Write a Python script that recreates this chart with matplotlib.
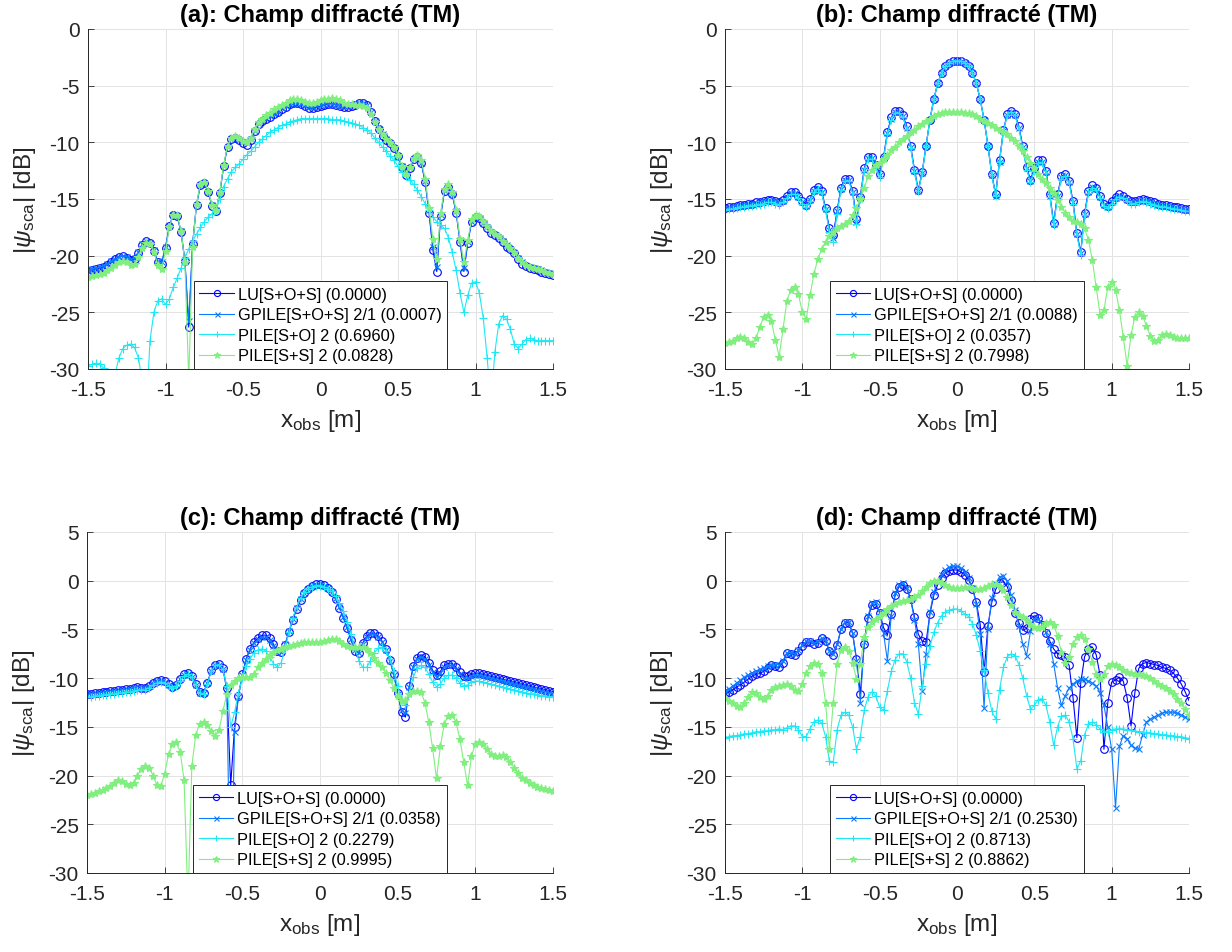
import numpy as np
import matplotlib
matplotlib.use("Agg")
import matplotlib.pyplot as plt

plt.rcParams['font.family'] = ['Liberation Sans', 'DejaVu Sans']
plt.rcParams['mathtext.fontset'] = 'custom'
plt.rcParams['mathtext.rm'] = 'Liberation Sans'
plt.rcParams['mathtext.it'] = 'Liberation Sans:italic'
plt.rcParams['mathtext.bf'] = 'Liberation Sans:bold'

# observation points x_obs [m]
x_obs = np.linspace(-1.5, 1.5, 121)

x_ticks = [-1.5, -1, -0.5, 0, 0.5, 1, 1.5]
x_ticklabels = ['-1.5', '-1', '-0.5', '0', '0.5', '1', '1.5']

method_names = ['LU[S+O+S]', 'GPILE[S+O+S] 2/1', 'PILE[S+O] 2', 'PILE[S+S] 2']
errors_a = ['0.0000', '0.0007', '0.6960', '0.0828']
errors_b = ['0.0000', '0.0088', '0.0357', '0.7998']
errors_c = ['0.0000', '0.0358', '0.2279', '0.9995']
errors_d = ['0.0000', '0.2530', '0.8713', '0.8862']

# ---------------- (a) ----------------
lu_a = [
    -21.4, -21.3, -21.2, -21.1, -21.0, -20.8, -20.6, -20.3, -20.1, -20.0,
    -20.2, -20.4, -20.3, -19.8, -19.1, -18.7, -18.9, -19.6, -20.6, -20.7,
    -19.3, -17.4, -16.4, -16.5, -17.9, -20.5, -26.3, -19.0, -15.5, -13.8,
    -13.6, -14.4, -15.6, -16.1, -14.5, -12.1, -10.4, -9.7, -9.6, -9.8,
    -10.1, -10.2, -9.8, -9.0, -8.4, -8.1, -7.9, -7.8, -7.5, -7.3,
    -7.1, -6.9, -6.6, -6.5, -6.5, -6.6, -6.8, -7.0, -7.0, -6.9,
    -6.8, -6.7, -6.6, -6.6, -6.7, -6.8, -6.9, -6.9, -6.8, -6.7,
    -6.5, -6.5, -6.7, -7.3, -8.1, -8.8, -9.4, -9.8, -10.1, -10.5,
    -11.2, -12.2, -12.9, -12.3, -11.5, -11.3, -11.8, -13.5, -16.2, -19.5,
    -21.4, -16.5, -14.3, -13.9, -14.6, -16.2, -18.8, -21.4, -18.9, -17.0,
    -16.6, -16.7, -17.1, -17.6, -18.0, -18.2, -18.4, -18.8, -19.2, -19.4,
    -19.8, -20.3, -20.7, -20.9, -21.1, -21.2, -21.3, -21.4, -21.5, -21.6, -21.7]
gpile_a = [
    -21.3, -21.2, -21.1, -21.0, -20.9, -20.7, -20.5, -20.3, -20.1, -20.0,
    -20.1, -20.3, -20.2, -19.7, -19.0, -18.7, -18.9, -19.5, -20.5, -20.6,
    -19.2, -17.4, -16.4, -16.5, -17.8, -20.4, -25.8, -18.9, -15.5, -13.8,
    -13.6, -14.4, -15.5, -16.0, -14.5, -12.1, -10.4, -9.7, -9.6, -9.8,
    -10.0, -10.1, -9.7, -9.0, -8.4, -8.1, -7.9, -7.7, -7.5, -7.3,
    -7.0, -6.8, -6.6, -6.5, -6.5, -6.6, -6.8, -6.9, -6.9, -6.8,
    -6.7, -6.6, -6.6, -6.6, -6.7, -6.8, -6.8, -6.8, -6.7, -6.6,
    -6.5, -6.5, -6.7, -7.3, -8.1, -8.8, -9.3, -9.7, -10.1, -10.5,
    -11.2, -12.1, -12.8, -12.3, -11.5, -11.3, -11.8, -13.4, -16.0, -19.2,
    -21.0, -16.4, -14.3, -13.9, -14.6, -16.1, -18.6, -21.1, -18.8, -17.0,
    -16.6, -16.7, -17.1, -17.5, -17.9, -18.2, -18.4, -18.7, -19.1, -19.4,
    -19.8, -20.2, -20.6, -20.9, -21.0, -21.1, -21.2, -21.3, -21.4, -21.5, -21.6]
pile_so_a = [
    -29.7, -29.6, -29.5, -29.6, -29.9, -30.5, -32.0, -30.4, -29.0, -28.2,
    -27.9, -27.8, -28.1, -29.0, -31.0, -34.0, -27.5, -25.0, -24.0, -23.8,
    -24.3, -23.8, -22.8, -22.0, -21.1, -20.2, -19.4, -18.7, -18.1, -17.5,
    -17.0, -16.6, -16.3, -16.0, -15.0, -13.9, -13.2, -12.6, -12.2, -11.9,
    -11.5, -11.1, -10.8, -10.4, -10.0, -9.7, -9.4, -9.1, -8.9, -8.7,
    -8.5, -8.4, -8.2, -8.1, -8.0, -7.9, -7.9, -7.9, -7.9, -7.9,
    -7.9, -7.9, -7.9, -8.0, -8.0, -8.0, -8.1, -8.2, -8.3, -8.4,
    -8.5, -8.7, -8.9, -9.2, -9.6, -10.0, -10.4, -10.8, -11.2, -11.6,
    -12.1, -12.6, -13.0, -13.3, -13.7, -14.2, -14.8, -15.4, -16.0, -16.6,
    -17.0, -17.3, -17.6, -18.4, -19.7, -21.3, -23.3, -25.0, -23.5, -22.4,
    -22.3, -23.3, -25.5, -29.0, -33.0, -28.5, -26.0, -25.3, -25.6, -26.5,
    -27.8, -28.2, -27.8, -27.4, -27.3, -27.4, -27.5, -27.5, -27.5, -27.5, -27.5]
pile_ss_a = [
    -21.9, -21.8, -21.7, -21.6, -21.5, -21.3, -21.1, -20.8, -20.6, -20.5,
    -20.6, -20.8, -20.7, -20.1, -19.3, -18.9, -19.0, -19.7, -20.8, -21.2,
    -19.6, -17.5, -16.4, -16.4, -17.8, -20.6, -31.0, -19.2, -15.4, -13.7,
    -13.5, -14.3, -15.5, -16.0, -14.4, -12.0, -10.3, -9.6, -9.4, -9.6,
    -9.9, -10.0, -9.6, -8.8, -8.2, -7.9, -7.6, -7.4, -7.1, -6.9,
    -6.7, -6.5, -6.3, -6.2, -6.2, -6.3, -6.4, -6.5, -6.5, -6.4,
    -6.3, -6.2, -6.2, -6.1, -6.2, -6.3, -6.5, -6.6, -6.6, -6.7,
    -6.7, -6.8, -7.0, -7.5, -8.2, -8.8, -9.3, -9.7, -10.0, -10.4,
    -11.1, -12.1, -12.8, -12.2, -11.4, -11.1, -11.6, -13.2, -15.8, -18.5,
    -20.3, -16.2, -14.1, -13.7, -14.4, -16.0, -18.5, -20.6, -18.6, -16.8,
    -16.4, -16.5, -16.9, -17.4, -17.8, -18.1, -18.3, -18.7, -19.1, -19.3,
    -19.7, -20.2, -20.6, -20.8, -21.0, -21.1, -21.2, -21.3, -21.4, -21.5, -21.6]

# ---------------- (b) ----------------
lu_b = [
    -15.8, -15.7, -15.7, -15.6, -15.5, -15.5, -15.4, -15.4, -15.3, -15.3,
    -15.2, -15.1, -15.1, -15.2, -15.3, -15.1, -14.7, -14.4, -14.4, -14.7,
    -15.2, -15.5, -15.0, -14.2, -13.9, -14.3, -15.8, -17.6, -18.2, -16.0,
    -14.0, -13.2, -13.2, -14.3, -16.8, -14.8, -12.3, -11.3, -11.3, -12.0,
    -12.8, -11.3, -9.1, -7.8, -7.2, -7.2, -7.6, -8.6, -10.3, -12.4,
    -14.2, -12.6, -10.3, -8.0, -6.2, -4.8, -3.9, -3.3, -3.0, -2.8,
    -2.8, -2.8, -3.0, -3.3, -3.9, -4.8, -6.2, -8.0, -10.3, -12.8,
    -14.6, -11.6, -8.9, -7.5, -7.2, -7.5, -8.6, -10.3, -12.2, -13.3,
    -12.3, -11.6, -11.6, -12.5, -14.6, -17.1, -14.6, -13.0, -12.8, -13.4,
    -15.2, -18.0, -19.7, -16.2, -14.3, -13.8, -14.0, -14.7, -15.4, -15.6,
    -15.2, -14.8, -14.6, -14.7, -15.0, -15.2, -15.2, -15.1, -15.0, -15.1,
    -15.2, -15.3, -15.4, -15.5, -15.5, -15.6, -15.7, -15.7, -15.8, -15.9, -15.9]
gpile_b = [
    -15.8, -15.8, -15.7, -15.6, -15.6, -15.5, -15.5, -15.4, -15.4, -15.3,
    -15.2, -15.2, -15.2, -15.2, -15.3, -15.2, -14.8, -14.5, -14.5, -14.8,
    -15.3, -15.6, -15.1, -14.3, -14.0, -14.4, -15.9, -17.7, -18.4, -16.1,
    -14.1, -13.3, -13.3, -14.4, -17.0, -14.9, -12.4, -11.4, -11.4, -12.1,
    -12.9, -11.4, -9.2, -7.9, -7.3, -7.3, -7.7, -8.7, -10.4, -12.5,
    -14.3, -12.7, -10.3, -8.0, -6.2, -4.8, -3.9, -3.3, -3.0, -2.9,
    -2.9, -2.9, -3.0, -3.3, -3.9, -4.8, -6.2, -8.0, -10.3, -12.9,
    -14.7, -11.7, -9.0, -7.6, -7.3, -7.6, -8.7, -10.4, -12.3, -13.4,
    -12.4, -11.7, -11.7, -12.6, -14.7, -17.2, -14.7, -13.1, -12.9, -13.5,
    -15.3, -18.1, -19.8, -16.3, -14.4, -13.9, -14.1, -14.8, -15.5, -15.7,
    -15.3, -14.9, -14.7, -14.8, -15.1, -15.3, -15.3, -15.2, -15.1, -15.2,
    -15.3, -15.4, -15.5, -15.6, -15.6, -15.7, -15.8, -15.8, -15.9, -16.0, -16.0]
pile_so_b = [
    -16.0, -15.9, -15.9, -15.8, -15.7, -15.7, -15.6, -15.6, -15.5, -15.5,
    -15.4, -15.3, -15.3, -15.4, -15.5, -15.3, -14.9, -14.6, -14.6, -14.9,
    -15.4, -15.7, -15.2, -14.4, -14.1, -14.5, -16.0, -17.9, -18.8, -16.3,
    -14.2, -13.4, -13.4, -14.5, -17.2, -15.0, -12.5, -11.5, -11.5, -12.2,
    -13.1, -11.5, -9.3, -8.0, -7.4, -7.4, -7.8, -8.8, -10.5, -12.6,
    -14.3, -12.7, -10.3, -8.0, -6.2, -4.8, -3.9, -3.3, -3.0, -2.8,
    -2.8, -2.8, -3.0, -3.3, -3.9, -4.8, -6.2, -8.0, -10.3, -12.9,
    -14.7, -11.7, -9.0, -7.6, -7.3, -7.6, -8.8, -10.5, -12.4, -13.5,
    -12.5, -11.8, -11.8, -12.7, -14.8, -17.3, -14.8, -13.2, -13.0, -13.6,
    -15.4, -18.2, -19.9, -16.4, -14.5, -14.0, -14.2, -14.9, -15.6, -15.8,
    -15.4, -15.0, -14.8, -14.9, -15.2, -15.4, -15.4, -15.3, -15.2, -15.3,
    -15.4, -15.5, -15.6, -15.7, -15.7, -15.8, -15.9, -15.9, -16.0, -16.1, -16.1]
pile_ss_b = [
    -27.7, -27.6, -27.5, -27.3, -27.2, -27.3, -27.6, -27.8, -27.3, -26.3,
    -25.4, -25.2, -25.8, -27.4, -28.9, -26.5, -24.0, -23.0, -22.8, -23.4,
    -25.0, -25.6, -23.5, -21.6, -20.3, -19.4, -18.8, -18.3, -17.9, -17.6,
    -17.4, -17.2, -16.9, -16.4, -15.8, -15.0, -14.0, -13.0, -12.4, -12.0,
    -11.8, -11.5, -11.1, -10.7, -10.4, -10.0, -9.7, -9.4, -9.1, -8.9,
    -8.6, -8.4, -8.1, -7.9, -7.7, -7.5, -7.4, -7.3, -7.3, -7.3,
    -7.3, -7.3, -7.4, -7.4, -7.5, -7.7, -7.9, -8.1, -8.3, -8.5,
    -8.7, -8.9, -9.1, -9.3, -9.6, -9.9, -10.3, -10.8, -11.3, -11.8,
    -12.3, -12.8, -13.2, -13.6, -14.0, -14.5, -15.1, -15.7, -16.2, -16.6,
    -16.9, -17.0, -17.2, -17.6, -18.6, -20.4, -22.8, -25.2, -24.8, -22.8,
    -22.3, -23.0, -24.8, -27.2, -29.7, -27.0, -25.4, -25.0, -25.3, -26.2,
    -27.1, -27.5, -27.4, -27.0, -26.9, -27.0, -27.2, -27.3, -27.3, -27.3, -27.3]

# ---------------- (c) ----------------
lu_c = [
    -11.6, -11.6, -11.5, -11.5, -11.4, -11.4, -11.3, -11.3, -11.2, -11.2,
    -11.1, -11.1, -11.0, -10.9, -11.0, -11.0, -10.8, -10.5, -10.3, -10.2,
    -10.3, -10.6, -10.9, -10.7, -10.1, -9.6, -9.5, -9.8, -10.6, -11.4,
    -11.5, -10.5, -9.2, -8.6, -8.5, -9.0, -11.0, -21.0, -15.0, -11.8,
    -9.6, -8.0, -7.0, -6.3, -5.9, -5.6, -5.6, -5.9, -6.5, -7.2,
    -7.3, -6.6, -5.3, -4.0, -2.9, -2.0, -1.3, -0.8, -0.5, -0.3,
    -0.3, -0.4, -0.7, -1.2, -1.9, -2.8, -3.8, -4.9, -6.1, -7.2,
    -7.4, -6.4, -5.7, -5.4, -5.4, -5.7, -6.2, -7.0, -8.1, -9.6,
    -11.5, -13.5, -14.0, -10.8, -8.8, -7.9, -7.6, -7.8, -8.4, -9.2,
    -9.7, -9.3, -8.7, -8.5, -8.5, -8.9, -9.4, -9.8, -9.8, -9.6,
    -9.5, -9.5, -9.6, -9.7, -9.8, -9.9, -10.0, -10.1, -10.2, -10.3,
    -10.4, -10.5, -10.6, -10.7, -10.8, -10.9, -11.0, -11.1, -11.2, -11.3, -11.4]
gpile_c = [
    -11.7, -11.6, -11.6, -11.5, -11.5, -11.4, -11.4, -11.3, -11.3, -11.2,
    -11.2, -11.1, -11.0, -11.0, -11.0, -11.0, -10.8, -10.5, -10.3, -10.3,
    -10.4, -10.7, -10.9, -10.7, -10.1, -9.7, -9.6, -9.9, -10.7, -11.5,
    -11.5, -10.5, -9.3, -8.7, -8.6, -9.1, -11.2, -35.0, -15.5, -11.9,
    -9.7, -8.1, -7.1, -6.4, -6.0, -5.8, -5.8, -6.1, -6.7, -7.3,
    -7.3, -6.5, -5.2, -3.9, -2.8, -1.9, -1.3, -0.8, -0.5, -0.4,
    -0.4, -0.5, -0.7, -1.2, -1.8, -2.7, -3.7, -4.8, -6.0, -7.1,
    -7.4, -6.5, -5.8, -5.5, -5.5, -5.8, -6.3, -7.1, -8.2, -9.7,
    -11.6, -13.3, -13.6, -10.9, -8.9, -8.0, -7.8, -8.0, -8.6, -9.4,
    -9.9, -9.5, -8.9, -8.7, -8.7, -9.1, -9.6, -10.0, -10.0, -9.8,
    -9.7, -9.7, -9.8, -9.9, -10.0, -10.1, -10.2, -10.3, -10.4, -10.5,
    -10.6, -10.7, -10.8, -10.9, -11.0, -11.1, -11.2, -11.3, -11.4, -11.5, -11.6]
pile_so_c = [
    -11.9, -11.9, -11.8, -11.8, -11.7, -11.7, -11.6, -11.6, -11.5, -11.5,
    -11.4, -11.4, -11.3, -11.2, -11.2, -11.2, -11.0, -10.7, -10.5, -10.4,
    -10.5, -10.8, -11.0, -10.8, -10.3, -9.8, -9.6, -9.9, -10.7, -11.5,
    -11.6, -10.6, -9.3, -8.7, -8.6, -9.1, -10.8, -15.0, -13.5, -11.5,
    -10.0, -8.8, -8.0, -7.4, -7.1, -7.0, -7.2, -7.8, -8.5, -8.9,
    -8.4, -7.0, -5.3, -3.8, -2.7, -1.8, -1.2, -0.8, -0.6, -0.5,
    -0.5, -0.6, -0.8, -1.1, -1.6, -2.3, -3.1, -4.2, -5.5, -6.9,
    -8.2, -8.9, -8.9, -8.2, -7.4, -6.9, -6.8, -7.2, -8.0, -9.3,
    -10.8, -12.2, -12.8, -11.5, -9.9, -9.0, -8.7, -8.9, -9.6, -10.4,
    -10.9, -10.6, -10.0, -9.7, -9.7, -10.0, -10.5, -10.8, -10.7, -10.4,
    -10.3, -10.3, -10.4, -10.5, -10.6, -10.7, -10.8, -10.9, -11.0, -11.1,
    -11.2, -11.3, -11.4, -11.5, -11.6, -11.6, -11.7, -11.8, -11.8, -11.9, -11.9]
pile_ss_c = [
    -22.0, -21.9, -21.8, -21.6, -21.5, -21.3, -21.1, -20.8, -20.5, -20.6,
    -20.9, -21.0, -20.8, -20.0, -19.3, -19.0, -19.2, -20.0, -21.0, -21.1,
    -19.8, -17.8, -16.8, -16.6, -17.6, -20.5, -33.0, -19.0, -15.8, -14.7,
    -14.5, -14.8, -15.4, -15.9, -15.3, -13.4, -11.6, -10.7, -10.3, -10.0,
    -9.9, -9.9, -9.9, -9.6, -8.9, -8.4, -8.0, -7.6, -7.3, -7.1,
    -7.0, -6.8, -6.7, -6.6, -6.5, -6.4, -6.3, -6.3, -6.3, -6.3,
    -6.3, -6.2, -6.1, -6.0, -6.0, -6.2, -6.5, -6.7, -6.8, -6.8,
    -6.8, -6.8, -7.0, -7.4, -7.9, -8.4, -8.9, -9.5, -10.2, -11.0,
    -11.8, -12.3, -12.2, -11.6, -11.3, -11.3, -11.4, -12.5, -14.5, -17.2,
    -20.3, -17.0, -14.7, -13.9, -13.8, -14.5, -16.2, -18.6, -21.0, -18.0,
    -16.8, -16.6, -16.8, -17.3, -17.8, -18.0, -18.0, -17.9, -18.1, -18.6,
    -19.2, -19.7, -20.2, -20.5, -20.8, -21.0, -21.2, -21.3, -21.4, -21.5, -21.6]

# ---------------- (d) ----------------
lu_d = [
    -11.6, -11.4, -11.2, -10.9, -10.7, -10.4, -10.1, -9.8, -9.6, -9.5,
    -9.3, -9.0, -8.7, -8.8, -8.9, -8.4, -7.4, -7.5, -7.6, -7.2,
    -6.7, -6.3, -6.3, -6.5, -6.4, -5.9, -6.2, -7.2, -7.6, -6.6,
    -5.0, -4.3, -4.3, -5.4, -8.0, -11.6, -6.5, -3.8, -2.5, -2.4,
    -3.3, -4.8, -5.6, -3.4, -1.5, -0.6, -0.4, -0.8, -1.9, -3.7,
    -5.5, -6.2, -6.3, -3.4, -1.5, -0.4, 0.3, 0.8, 1.0, 1.1,
    1.1, 0.9, 0.6, 0.1, -0.8, -2.2, -4.5, -9.4, -4.6, -2.2,
    -0.9, -0.2, -0.1, -0.6, -2.0, -3.3, -4.3, -5.1, -4.9, -3.9,
    -3.6, -3.8, -4.5, -5.4, -6.2, -7.0, -7.5, -7.6, -7.8, -8.7,
    -12.0, -16.1, -10.5, -7.8, -7.0, -6.8, -7.6, -9.7, -17.3, -12.5,
    -10.4, -10.2, -9.9, -10.3, -12.0, -14.9, -11.5, -9.0, -8.5, -8.4,
    -8.5, -8.6, -8.7, -8.9, -9.0, -9.2, -9.5, -10.0, -10.6, -11.4, -12.3]
gpile_d = [
    -11.3, -11.1, -10.8, -10.5, -10.2, -9.9, -9.7, -9.5, -9.3, -9.1,
    -9.0, -8.8, -8.7, -8.6, -8.6, -8.2, -7.4, -7.4, -7.5, -7.1,
    -6.6, -6.2, -6.2, -6.4, -6.3, -5.9, -6.2, -7.2, -7.5, -6.5,
    -5.0, -4.2, -4.2, -5.4, -8.2, -12.5, -6.3, -3.6, -2.3, -2.2,
    -3.2, -5.4, -8.2, -3.6, -1.3, -0.4, -0.2, -0.7, -1.9, -4.0,
    -6.5, -11.3, -7.5, -3.2, -1.2, -0.1, 0.6, 1.1, 1.4, 1.5,
    1.5, 1.3, 0.9, 0.3, -0.7, -2.4, -5.5, -13.1, -5.0, -1.8,
    -0.3, 0.4, 0.5, 0.0, -1.5, -3.0, -4.6, -6.5, -7.7, -5.2,
    -3.9, -3.9, -4.4, -5.3, -6.5, -8.5, -11.0, -12.8, -11.8, -11.0,
    -10.6, -10.3, -10.1, -10.1, -10.3, -10.5, -10.8, -11.5, -12.8, -15.0,
    -17.3, -23.3, -17.0, -15.9, -16.2, -16.9, -17.2, -17.3, -15.8, -14.5,
    -14.2, -14.0, -13.8, -13.6, -13.5, -13.5, -13.5, -13.6, -13.8, -14.0, -14.2]
pile_so_d = [
    -16.1, -16.0, -15.9, -15.9, -15.8, -15.7, -15.7, -15.6, -15.5, -15.5,
    -15.4, -15.4, -15.3, -15.3, -15.2, -15.3, -15.1, -14.9, -14.9, -15.3,
    -16.0, -16.0, -15.2, -14.5, -14.3, -14.6, -16.0, -18.5, -18.6, -15.3,
    -13.8, -13.5, -13.8, -15.0, -17.3, -16.0, -13.3, -11.9, -11.4, -11.8,
    -13.0, -13.3, -11.3, -9.3, -8.1, -7.5, -7.5, -8.3, -10.0, -12.5,
    -13.7, -10.8, -8.5, -6.7, -5.3, -4.3, -3.6, -3.2, -3.0, -2.9,
    -2.9, -3.1, -3.4, -3.7, -4.4, -5.6, -7.2, -9.2, -11.5, -13.4,
    -14.2, -11.2, -8.9, -7.8, -7.5, -7.7, -8.6, -10.0, -11.8, -13.2,
    -12.8, -12.2, -12.1, -12.8, -14.5, -16.9, -15.0, -13.9, -13.8, -14.5,
    -16.2, -19.3, -18.5, -15.8, -14.7, -14.5, -14.8, -15.2, -15.5, -15.5,
    -15.3, -15.2, -15.2, -15.2, -15.3, -15.3, -15.4, -15.5, -15.5, -15.6,
    -15.6, -15.7, -15.7, -15.8, -15.8, -15.9, -15.9, -16.0, -16.0, -16.1, -16.2]
pile_ss_d = [
    -12.0, -12.3, -12.6, -12.9, -13.0, -12.6, -11.9, -11.4, -11.5, -11.9,
    -12.1, -11.8, -11.2, -10.9, -10.8, -10.7, -10.6, -10.8, -11.2, -11.3,
    -10.6, -9.5, -8.8, -8.4, -8.5, -9.5, -12.5, -17.3, -12.5, -8.5,
    -7.1, -6.8, -7.2, -8.4, -10.1, -8.5, -5.8, -4.8, -4.2, -3.9,
    -3.6, -3.3, -2.9, -2.6, -2.4, -2.2, -2.1, -2.0, -1.9, -1.7,
    -1.5, -1.1, -0.6, -0.2, 0.0, 0.0, -0.2, -0.4, -0.6, -0.7,
    -0.7, -0.7, -0.6, -0.6, -0.7, -0.8, -0.8, -0.7, -0.5, -0.3,
    -0.3, -0.5, -1.0, -1.7, -2.5, -3.2, -3.5, -3.7, -4.0, -4.4,
    -4.8, -4.9, -4.7, -4.3, -4.2, -4.5, -5.7, -7.3, -8.4, -7.8,
    -6.5, -5.8, -5.6, -6.0, -7.0, -8.3, -9.6, -10.1, -9.6, -8.8,
    -8.5, -8.6, -8.9, -9.2, -9.4, -9.5, -9.6, -9.6, -9.7, -9.8,
    -10.0, -10.3, -10.6, -10.8, -11.0, -11.3, -11.6, -12.1, -12.6, -13.2, -13.8]

panels = [
    ('(a)', [lu_a, gpile_a, pile_so_a, pile_ss_a], errors_a, (-30, 0)),
    ('(b)', [lu_b, gpile_b, pile_so_b, pile_ss_b], errors_b, (-30, 0)),
    ('(c)', [lu_c, gpile_c, pile_so_c, pile_ss_c], errors_c, (-30, 5)),
    ('(d)', [lu_d, gpile_d, pile_so_d, pile_ss_d], errors_d, (-30, 5)),
]

colors = ['#0000ff', '#0a7cff', '#1ee8f5', '#80ef80']
markers = ['o', 'x', '+', '*']
msizes = [5.5, 4.5, 6.0, 6.0]

# axes boxes in pixels (left, top, right, bottom) for 1232x953
boxes = [(88, 30, 553, 370), (725, 30, 1189, 370),
         (87, 533, 553, 874), (725, 533, 1189, 874)]
W, H = 1232, 953
axis_col = '#262626'

fig = plt.figure(figsize=(12.32, 9.53), dpi=100)

for (tag, series, errs, ylim), (l, t, r, b) in zip(panels, boxes):
    ax = fig.add_axes([l / W, (H - b) / H, (r - l) / W, (b - t) / H])
    for y, name, err, c, m, ms in zip(series, method_names, errs, colors, markers, msizes):
        ax.plot(x_obs, y, color=c, marker=m, markersize=ms, linewidth=0.8,
                markerfacecolor='none' if m == 'o' else c, markeredgewidth=0.8,
                label=f'{name} ({err})')
    ax.set_xlim(-1.5, 1.5)
    ax.set_ylim(*ylim)
    ax.set_xticks(x_ticks)
    ax.set_xticklabels(x_ticklabels)
    yt = list(range(ylim[0], ylim[1] + 1, 5))
    ax.set_yticks(yt)
    ax.set_yticklabels([str(v) for v in yt])
    ax.grid(True, color='#e3e3e3', linewidth=0.7)
    ax.set_axisbelow(True)
    for s in ['top', 'right']:
        ax.spines[s].set_visible(False)
    for s in ['left', 'bottom']:
        ax.spines[s].set_color(axis_col)
        ax.spines[s].set_linewidth(0.7)
    ax.tick_params(direction='in', length=4, width=0.6, colors=axis_col,
                   labelsize=15)
    ax.tick_params(axis='x', pad=8)
    ax.tick_params(axis='y', pad=6)
    ax.set_title(f'{tag}: Champ diffracté (TM)', fontsize=17, fontweight='bold', pad=6)
    ax.set_xlabel(r'x$_{\mathrm{obs}}$ [m]', fontsize=17.5, color=axis_col, labelpad=6)
    ax.set_ylabel(r'$|\psi_{\mathrm{sca}}|$ [dB]', fontsize=17.5, color=axis_col, labelpad=8)
    leg = ax.legend(loc='lower center', fontsize=11.8, frameon=True, fancybox=False,
                    framealpha=1, edgecolor=axis_col, borderaxespad=0,
                    handlelength=2.1, handletextpad=0.25, labelspacing=0.33,
                    borderpad=0.35, markerscale=0.8)
    leg.get_frame().set_linewidth(0.7)

fig.savefig('out.png', dpi=100)
